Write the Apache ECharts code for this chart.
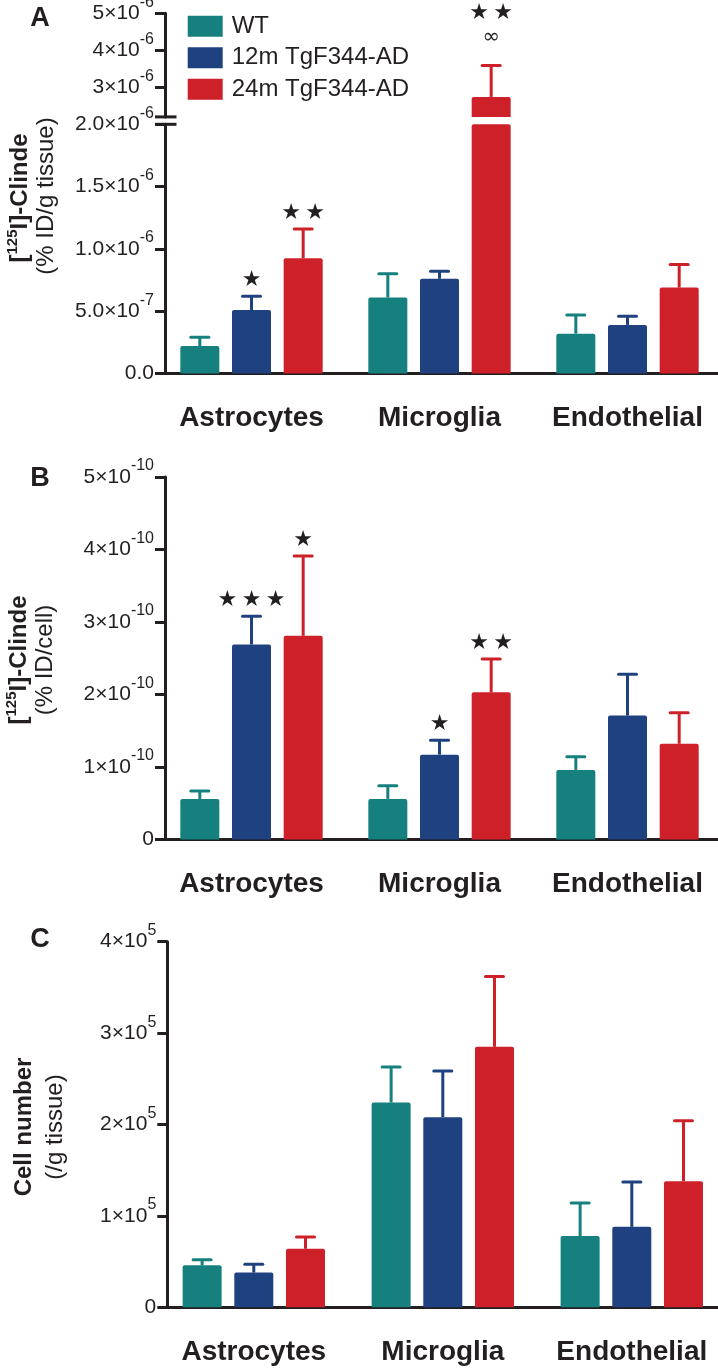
<!DOCTYPE html>
<html><head><meta charset="utf-8">
<script src="https://cdn.jsdelivr.net/npm/echarts@6/dist/echarts.min.js"></script>
<style>html,body{margin:0;padding:0;background:#fff}#c{width:718px;height:1371px}</style>
</head><body><div id="c"></div>
<script>
// ---------- data ----------
const categories = ['Astrocytes', 'Microglia', 'Endothelial'];
const groups = ['WT', '12m TgF344-AD', '24m TgF344-AD'];

// Panel A: [125I]-Clinde (% ID/g tissue)
const A_WT_mean  = [2.2e-7, 6.1e-7, 3.2e-7];
const A_WT_err   = [2.9e-7, 8.0e-7, 4.7e-7];
const A_12m_mean = [5.1e-7, 7.6e-7, 3.9e-7];
const A_12m_err  = [6.2e-7, 8.2e-7, 4.6e-7];
const A_24m_mean = [9.25e-7, 2.74e-6, 6.9e-7];
const A_24m_err  = [1.16e-6, 3.59e-6, 8.75e-7];
const A_WT_sig  = ['', '', ''];
const A_12m_sig = ['★', '', ''];
const A_24m_sig = ['★\u2009★', '★\u2009★', ''];
const A_24m_sym = ['', '∞', ''];

// Panel B: [125I]-Clinde (% ID/cell)
const B_WT_mean  = [0.56e-10, 0.56e-10, 0.96e-10];
const B_WT_err   = [0.67e-10, 0.74e-10, 1.14e-10];
const B_12m_mean = [2.69e-10, 1.17e-10, 1.71e-10];
const B_12m_err  = [3.08e-10, 1.37e-10, 2.28e-10];
const B_24m_mean = [2.81e-10, 2.03e-10, 1.32e-10];
const B_24m_err  = [3.91e-10, 2.49e-10, 1.75e-10];
const B_WT_sig  = ['', '', ''];
const B_12m_sig = ['★\u2009★\u2009★', '★', ''];
const B_24m_sig = ['★', '★\u2009★', ''];

// Panel C: Cell number (/g tissue)
const C_WT_mean  = [0.46e5, 2.24e5, 0.78e5];
const C_WT_err   = [0.52e5, 2.63e5, 1.14e5];
const C_12m_mean = [0.38e5, 2.08e5, 0.88e5];
const C_12m_err  = [0.47e5, 2.585e5, 1.37e5];
const C_24m_mean = [0.64e5, 2.85e5, 1.38e5];
const C_24m_err  = [0.77e5, 3.62e5, 2.04e5];

// tick labels
const tickAhi_vals = [3e-6, 4e-6, 5e-6];
const tickAhi_base = ['3×10', '4×10', '5×10'];
const tickAhi_exp  = ['-6', '-6', '-6'];
const tickAlo_vals = [0, 5e-7, 1e-6, 1.5e-6, 2e-6];
const tickAlo_base = ['0.0', '5.0×10', '1.0×10', '1.5×10', '2.0×10'];
const tickAlo_exp  = ['', '-7', '-6', '-6', '-6'];
const tickB_vals = [0, 1e-10, 2e-10, 3e-10, 4e-10, 5e-10];
const tickB_base = ['0', '1×10', '2×10', '3×10', '4×10', '5×10'];
const tickB_exp  = ['', '-10', '-10', '-10', '-10', '-10'];
const tickC_vals = [0, 1e5, 2e5, 3e5, 4e5];
const tickC_base = ['0', '1×10', '2×10', '3×10', '4×10'];
const tickC_exp  = ['', '5', '5', '5', '5'];

// ---------- styling ----------
const FONT = '"Liberation Sans", Arial, Helvetica, sans-serif';
const SYMFONT = '"DejaVu Sans", sans-serif';
const INK = '#231f20';
const COLORS = ['#15807e', '#1f4180', '#cd2029'];
const BAR_W = 39, BAR_GAP = 0.325;
const STEP = BAR_W * (1 + BAR_GAP);

const A_HI = [2.2e-6, 5e-6];
const A_LO = [0, 2e-6];
const B_EXT = [0, 5e-10];
const C_EXT = [0, 4e5];

const grids = [
  {left: 157.5, width: 564, top: 13.3, height: 103.6},
  {left: 157.5, width: 564, top: 124.3, height: 249.2},
  {left: 157.5, width: 564, top: 477, height: 362.5},
  {left: 159.3, width: 567, top: 941.7, height: 365.6}
];
const yOffsets = [-7.5, -7.5, -7.5, -8];

function fmt(vals, base, exp) {
  return function (v) {
    let bi = 0, bd = Infinity;
    vals.forEach((t, i) => { const d = Math.abs(t - v); if (d < bd) { bd = d; bi = i; } });
    return exp[bi] ? '{m|' + base[bi] + '}{e|' + exp[bi] + '}' : '{m|' + base[bi] + '}';
  };
}
const labelRich = {
  m: {fontSize: 21, lineHeight: 38, fontFamily: FONT, color: INK},
  e: {fontSize: 16, lineHeight: 17, verticalAlign: 'top', fontFamily: FONT, color: INK}
};

function yAxis(g, ext, interval, vals, base, exp, custom) {
  const ax = {
    type: 'value', gridIndex: g, min: ext[0], max: ext[1],
    offset: yOffsets[g],
    axisLine: {show: true, lineStyle: {color: INK, width: 3}},
    axisTick: {show: true, length: 10, lineStyle: {color: INK, width: 3}},
    axisLabel: {margin: 11, formatter: fmt(vals, base, exp), rich: labelRich, hideOverlap: false},
    splitLine: {show: false}
  };
  if (custom) {
    ax.axisTick.customValues = vals;
    ax.axisLabel.customValues = vals;
  } else {
    ax.interval = interval;
  }
  return ax;
}

function xAxis(g, showLabels) {
  return {
    type: 'category', gridIndex: g, data: categories,
    axisLine: {show: g !== 0, lineStyle: {color: INK, width: 3}},
    axisTick: {show: false},
    axisLabel: {show: showLabels, interval: 0, hideOverlap: false, margin: 31, fontSize: 28, fontWeight: 'bold', fontFamily: FONT, color: INK},
    splitLine: {show: false}
  };
}

const series = [];
function addPanel(g, ext, means, errs, sigs, syms) {
  means.forEach((mean, i) => {
    series.push({
      type: 'bar', name: groups[i], xAxisIndex: g, yAxisIndex: g,
      data: mean.map(v => (v >= ext[0] ? v : '-')),
      barWidth: BAR_W, barGap: (BAR_GAP * 100) + '%',
      itemStyle: {color: COLORS[i], borderRadius: [2, 2, 0, 0]},
      clip: true, silent: true, z: 2
    });
    const err = errs[i];
    const sig = sigs ? sigs[i] : null;
    const sym = syms ? syms[i] : null;
    series.push({
      type: 'custom', name: 'err' + g + '_' + i, xAxisIndex: g, yAxisIndex: g,
      data: mean.map((v, k) => [k, v, err[k]]),
      clip: false, silent: true, z: 3,
      renderItem: function (params, api) {
        const k = params.dataIndex;
        const m = api.value(1), e = api.value(2);
        if (e < ext[0] || m > ext[1]) return null;
        const x = api.coord([k, 0])[0] + (i - 1) * STEP;
        const y0 = api.coord([k, Math.max(m, ext[0])])[1];
        const y1 = api.coord([k, e])[1];
        const st = {stroke: COLORS[i], lineWidth: 3, lineCap: 'round'};
        const children = [
          {type: 'line', shape: {x1: x, y1: y0, x2: x, y2: y1}, style: {stroke: COLORS[i], lineWidth: 3}},
          {type: 'line', shape: {x1: x - 9, y1: y1, x2: x + 9, y2: y1}, style: st}
        ];
        const s = sig ? sig[k] : '';
        const sy = sym ? sym[k] : '';
        if (sy) {
          children.push({type: 'text', x: x, y: y1 - 28, style: {text: sy, fontSize: 21, fontFamily: SYMFONT, fill: INK, align: 'center', verticalAlign: 'middle'}});
        }
        if (s) {
          children.push({type: 'text', x: x, y: y1 - (sy ? 52 : 16), style: {text: s, fontSize: 22, fontFamily: SYMFONT, fill: INK, align: 'center', verticalAlign: 'middle'}});
        }
        return {type: 'group', children: children};
      }
    });
  });
}
addPanel(0, A_HI, [A_WT_mean, A_12m_mean, A_24m_mean], [A_WT_err, A_12m_err, A_24m_err], [A_WT_sig, A_12m_sig, A_24m_sig], [null, null, A_24m_sym]);
addPanel(1, A_LO, [A_WT_mean, A_12m_mean, A_24m_mean], [A_WT_err, A_12m_err, A_24m_err], [A_WT_sig, A_12m_sig, A_24m_sig], [null, null, A_24m_sym]);
addPanel(2, B_EXT, [B_WT_mean, B_12m_mean, B_24m_mean], [B_WT_err, B_12m_err, B_24m_err], [B_WT_sig, B_12m_sig, B_24m_sig], null);
addPanel(3, C_EXT, [C_WT_mean, C_12m_mean, C_24m_mean], [C_WT_err, C_12m_err, C_24m_err], null, null);

function titleText(x, y, text, bold) {
  return {
    type: 'text', x: x, y: y, rotation: Math.PI / 2, silent: true,
    style: {
      text: text, fill: INK, align: 'center', verticalAlign: 'middle',
      fontSize: 24, fontFamily: FONT, fontWeight: bold ? 'bold' : 'normal',
      rich: {
        b: {fontSize: 24, fontWeight: 'bold', fontFamily: FONT, lineHeight: 30, fill: INK},
        s: {fontSize: 15, fontWeight: 'bold', fontFamily: FONT, lineHeight: 15, verticalAlign: 'top', fill: INK}
      }
    }
  };
}
function letter(x, y, t) {
  return {type: 'text', x: x, y: y, silent: true,
    style: {text: t, fill: INK, fontSize: 27, fontWeight: 'bold', fontFamily: FONT, align: 'center', verticalAlign: 'middle'}};
}

const graphics = [
  letter(40, 19, 'A'), letter(40, 479, 'B'), letter(40, 940, 'C'),
  titleText(20, 198, '{b|[}{s|125}{b|I]-Clinde}', true),
  titleText(46, 196, '(% ID/g tissue)', false),
  titleText(19, 660, '{b|[}{s|125}{b|I]-Clinde}', true),
  titleText(45, 660, '(% ID/cell)', false),
  titleText(24, 1127, 'Cell number', true),
  titleText(55, 1127, '(/g tissue)', false)
];

const option = {
  animation: false,
  backgroundColor: '#ffffff',
  textStyle: {fontFamily: FONT},
  grid: grids.map(g => Object.assign({containLabel: false, outerBoundsMode: 'none'}, g)),
  xAxis: [xAxis(0, false), xAxis(1, true), xAxis(2, true), xAxis(3, true)],
  yAxis: [
    yAxis(0, A_HI, null, tickAhi_vals, tickAhi_base, tickAhi_exp, true),
    yAxis(1, A_LO, 5e-7, tickAlo_vals, tickAlo_base, tickAlo_exp, false),
    yAxis(2, B_EXT, 1e-10, tickB_vals, tickB_base, tickB_exp, false),
    yAxis(3, C_EXT, 1e5, tickC_vals, tickC_base, tickC_exp, false)
  ],
  legend: {
    data: groups, orient: 'vertical', left: 182.7, top: 9.3,
    itemWidth: 35, itemHeight: 21, itemGap: 7.5, icon: 'rect',
    selectedMode: false,
    textStyle: {fontSize: 24, color: INK, fontFamily: FONT, lineHeight: 21, padding: [0, 0, 0, 4]}
  },
  series: series,
  graphic: graphics
};

const chart = echarts.init(document.getElementById('c'));
chart.setOption(option);

// axis-break marks on panel A's y axis
const axisX = grids[0].left - yOffsets[0];
const yHiBottom = chart.convertToPixel({yAxisIndex: 0}, A_HI[0]);
const yLoTop = chart.convertToPixel({yAxisIndex: 1}, A_LO[1]);
const brk = [yHiBottom, yLoTop].map(y => ({
  type: 'line', silent: true,
  shape: {x1: axisX - 10, y1: y, x2: axisX + 11.5, y2: y},
  style: {stroke: INK, lineWidth: 3}
}));
chart.setOption({graphic: graphics.concat(brk)});
</script>
</body></html>
